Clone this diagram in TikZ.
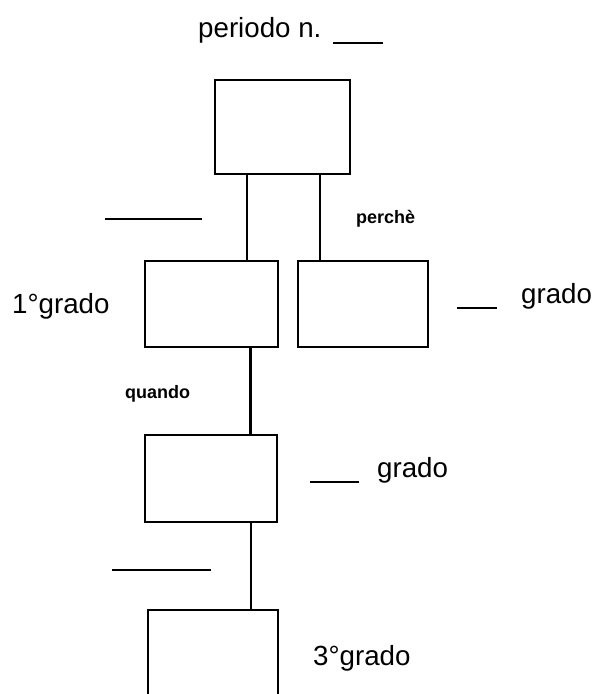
\documentclass[tikz,border=0pt]{standalone}
\usepackage{fontspec}
\setmainfont{Liberation Sans}
\usetikzlibrary{positioning}

\begin{document}
\begin{tikzpicture}[x=1pt,y=-1pt,
   box/.style={draw,line width=1.8pt,inner sep=0pt,minimum width=132pt,minimum height=87pt},
   link/.style={line width=2.2pt},
   blank/.style={line width=1.3pt},
   gap/.style={line width=2.6pt},
   lbl/.style={inner sep=0pt,anchor=base west,font=\fontsize{27.7}{30}\selectfont},
   why/.style={inner sep=0pt,anchor=base west,font=\bfseries\fontsize{18}{20}\selectfont}]
   \useasboundingbox (0,0) rectangle (598,694);
   \clip (0,0) rectangle (598,694);

   \node[lbl] (title) at (198,37) {periodo n.};
   \coordinate (t1) at (333,43); \coordinate (t2) at (383,43);

   \node[box,minimum width=135pt,minimum height=94pt] (top) at (282.5,127) {};
   \node[box,minimum width=133pt,minimum height=86pt] (b1a) at (211.5,304) {};
   \node[box,minimum width=130pt,minimum height=86pt] (b1b) at (363,304) {};
   \node[box] (b2) at (211,478.5) {};
   \node[box,minimum width=130pt,minimum height=110pt] (b3) at (213,665) {};

   \node[why] (perche) at (356,223) {perchè};
   \node[why] (quando) at (125,398) {quando};

   \node[lbl] (g1) at (12,313) {1°grado};
   \node[lbl] (g1b) at (521,303) {grado};
   \node[lbl] (g2) at (377,477) {grado};
   \node[lbl] (g3) at (313,665) {3°grado};

   \coordinate (l1) at (105,219); \coordinate (l2) at (202,219);
   \coordinate (l3) at (112,570); \coordinate (l4) at (211,570);
   \coordinate (u1) at (457,308); \coordinate (u2) at (497,308);
   \coordinate (u3) at (310,482); \coordinate (u4) at (359,482);

   % connectors
   \draw[link] ([xshift=-35.5pt]top.south) -- ([xshift=35.5pt]b1a.north);
   \draw[link] ([xshift=37.5pt]top.south) -- ([xshift=-43pt]b1b.north);
   \draw[link] ([xshift=39pt]b1a.south) -- ([xshift=39.5pt]b2.north);
   \draw[link] ([xshift=40pt]b2.south) -- ([xshift=38pt]b3.north);

   % blanks
   \draw[gap] (t1) -- (t2);
   \draw[blank] (l1) -- (l2);
   \draw[blank] (l3) -- (l4);
   \draw[gap] (u1) -- (u2);
   \draw[gap] (u3) -- (u4);
\end{tikzpicture}
\end{document}
